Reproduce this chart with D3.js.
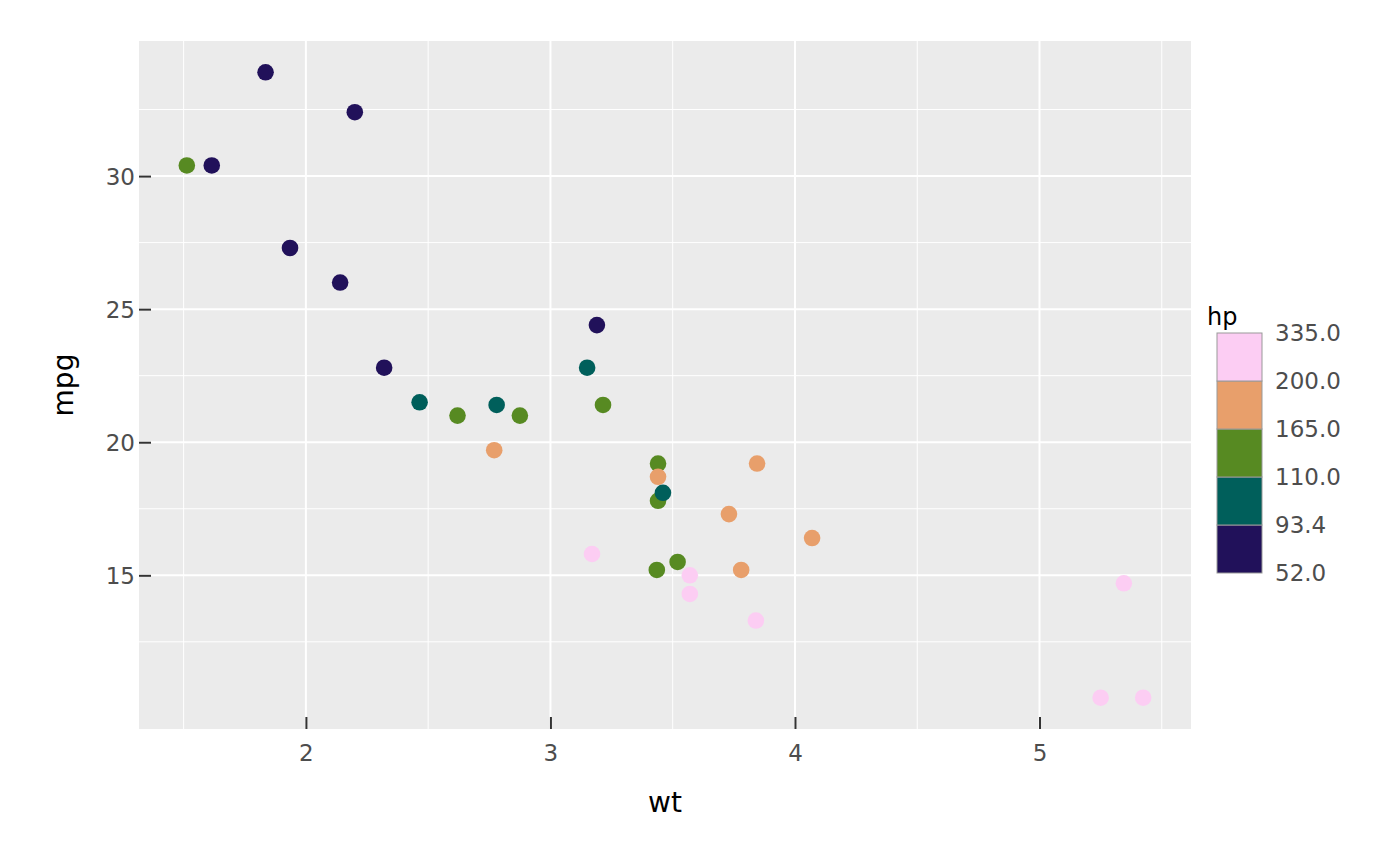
<!DOCTYPE html>
<html>
<head>
<meta charset="utf-8">
<script src="https://cdn.jsdelivr.net/npm/d3@7"></script>
<style>
  body { margin: 0; background: #fff; }
  text { font-family: "DejaVu Sans", sans-serif; }
</style>
</head>
<body>
<div id="chart-area"></div>
<script>
// mtcars: weight, mpg, horsepower
var cars = ["Mazda RX4","Mazda RX4 Wag","Datsun 710","Hornet 4 Drive","Hornet Sportabout","Valiant",
    "Duster 360","Merc 240D","Merc 230","Merc 280","Merc 280C","Merc 450SE","Merc 450SL","Merc 450SLC",
    "Cadillac Fleetwood","Lincoln Continental","Chrysler Imperial","Fiat 128","Honda Civic","Toyota Corolla",
    "Toyota Corona","Dodge Challenger","AMC Javelin","Camaro Z28","Pontiac Firebird","Fiat X1-9",
    "Porsche 914-2","Lotus Europa","Ford Pantera L","Ferrari Dino","Maserati Bora","Volvo 142E"];
var wt = [2.620,2.875,2.320,3.215,3.440,3.460,3.570,3.190,3.150,3.440,3.440,4.070,3.730,3.780,
    5.250,5.424,5.345,2.200,1.615,1.835,2.465,3.520,3.435,3.840,3.845,1.935,2.140,1.513,3.170,2.770,3.570,2.780];
var mpg = [21.0,21.0,22.8,21.4,18.7,18.1,14.3,24.4,22.8,19.2,17.8,16.4,17.3,15.2,
    10.4,10.4,14.7,32.4,30.4,33.9,21.5,15.5,15.2,13.3,19.2,27.3,26.0,30.4,15.8,19.7,15.0,21.4];
var hp = [110,110,93,110,175,105,245,62,95,123,123,180,180,180,
    205,215,230,66,52,65,97,150,150,245,175,66,91,113,264,175,335,109];

var xTicks = [2, 3, 4, 5];
var xMinor = [1.5, 2.5, 3.5, 4.5, 5.5];
var yTicks = [15, 20, 25, 30];
var yMinor = [12.5, 17.5, 22.5, 27.5, 32.5];

// quantile bins of hp
var hpBreaks = [52, 93.4, 110, 165, 200, 335];
var hpLabels = ["52.0", "93.4", "110.0", "165.0", "200.0", "335.0"];
var binColours = ["#21115a", "#005f5b", "#578a22", "#e89f6b", "#fccdf3"];

var W = 1400, H = 866;
var panel = { left: 139, right: 1191, top: 41, bottom: 729 };

var svg = d3.select("#chart-area").append("svg")
    .attr("width", W)
    .attr("height", H);

var data = cars.map(function(c, i) {
    return { name: c, wt: wt[i], mpg: mpg[i], hp: hp[i] };
});

// Scales (5% expansion like ggplot)
var xExt = d3.extent(wt), yExt = d3.extent(mpg);
var xPad = (xExt[1] - xExt[0]) * 0.05, yPad = (yExt[1] - yExt[0]) * 0.05;
var x = d3.scaleLinear().domain([xExt[0] - xPad, xExt[1] + xPad]).range([panel.left, panel.right]);
var y = d3.scaleLinear().domain([yExt[0] - yPad, yExt[1] + yPad]).range([panel.bottom, panel.top]);
var colour = d3.scaleThreshold().domain(hpBreaks.slice(1, -1)).range(binColours);

// Panel background
svg.append("rect")
    .attr("x", panel.left)
    .attr("y", panel.top)
    .attr("width", panel.right - panel.left)
    .attr("height", panel.bottom - panel.top)
    .attr("fill", "#ebebeb");

// Grid
var grid = svg.append("g").attr("stroke", "#fff");
grid.selectAll(".vminor").data(xMinor).enter().append("line")
    .attr("x1", x).attr("x2", x)
    .attr("y1", panel.top).attr("y2", panel.bottom)
    .attr("stroke-width", 1);
grid.selectAll(".hminor").data(yMinor).enter().append("line")
    .attr("y1", y).attr("y2", y)
    .attr("x1", panel.left).attr("x2", panel.right)
    .attr("stroke-width", 1);
grid.selectAll(".vmajor").data(xTicks).enter().append("line")
    .attr("x1", x).attr("x2", x)
    .attr("y1", panel.top).attr("y2", panel.bottom)
    .attr("stroke-width", 2);
grid.selectAll(".hmajor").data(yTicks).enter().append("line")
    .attr("y1", y).attr("y2", y)
    .attr("x1", panel.left).attr("x2", panel.right)
    .attr("stroke-width", 2);

// Axes (ticks drawn inward over the panel edge)
var xAxis = svg.append("g")
    .attr("transform", "translate(0," + panel.bottom + ")")
    .call(d3.axisTop(x).tickValues(xTicks).tickSize(12).tickFormat(d3.format("d")));
xAxis.select(".domain").remove();
xAxis.selectAll(".tick line").attr("stroke", "#333").attr("stroke-width", 2);
xAxis.selectAll(".tick text")
    .attr("y", 32)
    .attr("dy", 0)
    .attr("fill", "#4d4d4d")
    .style("font-size", "23px");

var yAxis = svg.append("g")
    .attr("transform", "translate(" + panel.left + ",0)")
    .call(d3.axisRight(y).tickValues(yTicks).tickSize(12).tickFormat(d3.format("d")));
yAxis.select(".domain").remove();
yAxis.selectAll(".tick line").attr("stroke", "#333").attr("stroke-width", 2);
yAxis.selectAll(".tick text")
    .attr("x", -4)
    .attr("text-anchor", "end")
    .attr("dy", "0.36em")
    .attr("fill", "#4d4d4d")
    .style("font-size", "23px");

// Points, grouped by colour in order of first appearance
var groups = d3.groups(data, function(d) { return colour(d.hp); });
var ordered = [];
groups.forEach(function(g) { ordered = ordered.concat(g[1]); });

svg.append("g").selectAll("circle")
    .data(ordered)
    .enter().append("circle")
    .attr("cx", function(d) { return x(d.wt); })
    .attr("cy", function(d) { return y(d.mpg); })
    .attr("r", 8.3)
    .attr("fill", function(d) { return colour(d.hp); });

// Axis titles
svg.append("text")
    .attr("x", (panel.left + panel.right) / 2)
    .attr("y", 812)
    .attr("text-anchor", "middle")
    .style("font-size", "28px")
    .text("wt");

svg.append("text")
    .attr("transform", "translate(73," + ((panel.top + panel.bottom) / 2) + ") rotate(-90)")
    .attr("text-anchor", "middle")
    .style("font-size", "28px")
    .text("mpg");

// Legend: stepped colour bar
var legend = svg.append("g").attr("class", "legend");
var lg = d3.scaleLinear().domain([0, binColours.length]).range([573, 333]);

legend.append("text")
    .attr("x", 1207)
    .attr("y", 325)
    .style("font-size", "24px")
    .text("hp");

legend.selectAll("rect")
    .data(binColours)
    .enter().append("rect")
    .attr("x", 1217)
    .attr("y", function(d, i) { return lg(i + 1); })
    .attr("width", 45)
    .attr("height", function(d, i) { return lg(i) - lg(i + 1); })
    .attr("fill", function(d) { return d; })
    .attr("stroke", "#999")
    .attr("stroke-width", 1);

legend.selectAll(".lab")
    .data(hpLabels)
    .enter().append("text")
    .attr("class", "lab")
    .attr("x", 1275)
    .attr("y", function(d, i) { return lg(i); })
    .attr("dy", "0.36em")
    .attr("fill", "#4d4d4d")
    .style("font-size", "23px")
    .text(function(d) { return d; });
</script>
</body>
</html>
